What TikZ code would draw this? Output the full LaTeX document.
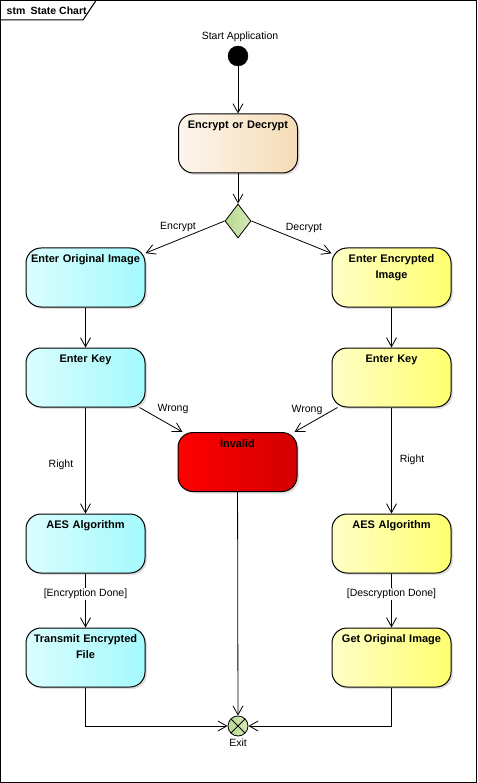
\documentclass[tikz,border=0pt]{standalone}
\usepackage{fontspec}
\setmainfont{Liberation Sans}
\usetikzlibrary{arrows.meta, shadows, shapes.geometric}

\definecolor{tanL}{HTML}{FDF6EE}
\definecolor{tanR}{HTML}{F5DCB6}
\definecolor{cyanL}{HTML}{DAFDFE}
\definecolor{cyanR}{HTML}{A4FAFD}
\definecolor{yelL}{HTML}{FFFFC6}
\definecolor{yelR}{HTML}{FFFF70}
\definecolor{redL}{HTML}{FF0000}
\definecolor{redR}{HTML}{D20000}
\definecolor{pseudoL}{HTML}{B7D98C}
\definecolor{pseudoR}{HTML}{D6E9BC}

\tikzset{
  state/.style={draw, line width=1pt, rounded corners=15pt, minimum width=119pt,
    minimum height=59pt, inner sep=0pt,
    drop shadow={shadow xshift=2pt, shadow yshift=-2pt, opacity=0.25}},
  sname/.style={font=\bfseries\fontsize{11}{16}\selectfont, text width=116pt,
    align=center, anchor=north, yshift=-4pt, inner sep=3pt},
  tanbox/.style={state, left color=tanL, right color=tanR},
  encbox/.style={state, left color=cyanL, right color=cyanR},
  decbox/.style={state, left color=yelL, right color=yelR},
  badbox/.style={state, left color=redL, right color=redR},
  lbl/.style={font=\fontsize{10.5}{12}\selectfont, inner sep=1pt},
  trans/.style={line width=0.8pt, ->},
  >={Straight Barb[length=9pt, width=10pt]}
}

\begin{document}
\begin{tikzpicture}[x=1pt, y=-1pt]
  \useasboundingbox (0,0) rectangle (477,783);
  % frame
  \draw[line width=1pt] (0.5,0.5) rectangle (476.5,782.5);
  \draw[line width=1pt] (0.5,20) -- (83,20) -- (96,0.5);
  \node[anchor=west, font=\bfseries\fontsize{10.5}{12}\selectfont, inner sep=0pt] (title) at (6.5,10.5) {stm\enspace State Chart};

  \node[lbl] (startlbl) at (240,37) {Start Application};
  \node[circle, fill=black, draw, minimum size=20pt, inner sep=0pt] (start) at (238,56) {};
  \node[tanbox, label={[sname]north:Encrypt or Decrypt}] (choice) at (238,143.5) {};
  \node[diamond, draw, line width=0.8pt, left color=pseudoL, right color=pseudoR,
    minimum width=26pt, minimum height=34pt, inner sep=0pt] (pick) at (238,221) {};

  \node[encbox, label={[sname]north:Enter Original Image}] (origimg) at (85.5,277.5) {};
  \node[encbox, label={[sname]north:Enter Key}] (keyenc) at (85.5,377.5) {};
  \node[encbox, label={[sname]north:AES Algorithm}] (aesenc) at (85.5,543.5) {};
  \node[encbox, label={[sname]north:Transmit Encrypted\\File}] (sendfile) at (85.5,657.5) {};

  \node[decbox, label={[sname]north:Enter Encrypted\\Image}] (encimg) at (391.5,277.5) {};
  \node[decbox, label={[sname]north:Enter Key}] (keydec) at (391.5,377.5) {};
  \node[decbox, label={[sname]north:AES Algorithm}] (aesdec) at (391.5,543.5) {};
  \node[decbox, label={[sname]north:Get Original Image}] (getimg) at (391.5,657.5) {};

  \node[badbox, label={[sname]north:Invalid}] (invalid) at (237.5,462) {};

  \node[circle, draw, line width=0.8pt, left color=pseudoL, right color=pseudoR,
    minimum size=20pt, inner sep=0pt,
    path picture={\draw[line width=0.8pt] (path picture bounding box.north west) -- (path picture bounding box.south east)
      (path picture bounding box.north east) -- (path picture bounding box.south west);}] (exit) at (238,726) {};
  \node[lbl] (exitlbl) at (238,743) {Exit};

  % transition labels
  \node[lbl] (l1) at (178,227) {Encrypt};
  \node[lbl] (l2) at (304,228) {Decrypt};
  \node[lbl] (l3) at (173,409) {Wrong};
  \node[lbl] (l4) at (307,410) {Wrong};
  \node[lbl] (l5) at (61,465) {Right};
  \node[lbl] (l6) at (412,460) {Right};

  \path[trans] (start) edge (choice);
  \path[trans] (choice) edge (pick);
  \path[trans] (pick.west) edge (origimg);
  \path[trans] (pick.east) edge (encimg);
  \path[trans] (origimg) edge (keyenc);
  \path[trans] (encimg) edge (keydec);
  \path[trans] ([xshift=-6pt]keyenc.south east) edge ([xshift=5pt]invalid.north west);
  \path[trans] ([xshift=6pt]keydec.south west) edge ([xshift=-3pt]invalid.north east);
  \path[trans] (keyenc) edge (aesenc);
  \path[trans] (keydec) edge (aesdec);
  \path[trans] (aesenc) edge (sendfile);
  \path[trans] (aesdec) edge (getimg);
  \path[trans] (invalid) edge (exit);
  \draw[trans] (sendfile) |- (exit);
  \draw[trans] (getimg) |- (exit);

  \node[lbl, fill=white] (l7) at (85.5,594) {[Encryption Done]};
  \node[lbl, fill=white] (l8) at (391.5,594) {[Descryption Done]};
\end{tikzpicture}
\end{document}
